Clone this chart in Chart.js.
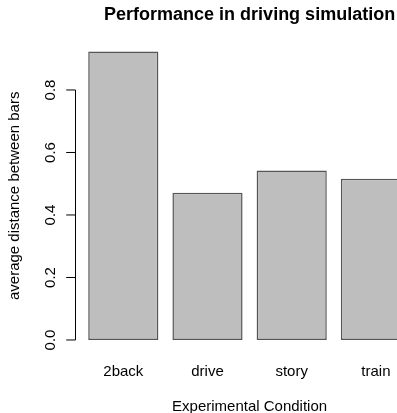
<!DOCTYPE html>
<html><head><meta charset="utf-8">
<script src="https://cdn.jsdelivr.net/npm/chart.js@4/dist/chart.umd.min.js"></script>
<style>
html,body{margin:0;padding:0;background:#fff;overflow:hidden}
#wrap{width:397px;height:413px;overflow:hidden;position:relative;background:#fff}
canvas{display:block}
</style></head>
<body><div id="wrap"><canvas id="c" width="430" height="420"></canvas></div>
<script>
const categories = ['2back', 'drive', 'story', 'train'];
const values = [0.923, 0.471, 0.542, 0.516];
const yTicks = [0, 0.2, 0.4, 0.6, 0.8];
const yTickLabels = ['0.0', '0.2', '0.4', '0.6', '0.8'];
const yRange = [-0.0369, 0.9596];
const titleText = 'Performance in driving simulation';
const xTitle = 'Experimental Condition';
const yTitle = 'average distance between bars';
const FONT = "'Liberation Sans', Arial, Helvetica, sans-serif";

const rAxis = {
  id: 'rAxis',
  afterDraw(chart) {
    const ctx = chart.ctx, y = chart.scales.y;
    const ax = Math.floor(chart.chartArea.left - 5.2) - 0.5;
    const y0 = y.getPixelForValue(yTicks[0]);
    const y1 = y.getPixelForValue(yTicks[yTicks.length - 1]);
    ctx.save();
    ctx.strokeStyle = '#000';
    ctx.lineWidth = 1;
    ctx.beginPath();
    ctx.moveTo(ax, y0); ctx.lineTo(ax, y1);
    yTicks.forEach(v => {
      const p = y.getPixelForValue(v);
      ctx.moveTo(ax, p); ctx.lineTo(ax - 9.3, p);
    });
    ctx.stroke();
    ctx.fillStyle = '#000';
    ctx.font = '15px ' + FONT;
    ctx.textAlign = 'center';
    ctx.textBaseline = 'alphabetic';
    yTicks.forEach((v, i) => {
      const p = y.getPixelForValue(v);
      ctx.save();
      ctx.translate(ax - 20.5, p);
      ctx.rotate(-Math.PI / 2);
      ctx.fillText(yTickLabels[i], 0, 0);
      ctx.restore();
    });
    ctx.restore();
  }
};

new Chart(document.getElementById('c'), {
  type: 'bar',
  data: {
    labels: categories,
    datasets: [{
      data: values,
      backgroundColor: '#bebebe',
      borderColor: '#555555',
      borderWidth: 1.5,
      borderSkipped: false,
      barPercentage: 1,
      categoryPercentage: 0.8333
    }]
  },
  options: {
    responsive: false,
    animation: false,
    devicePixelRatio: 1,
    layout: { padding: { left: 0, right: 12, top: 0, bottom: 0 } },
    plugins: {
      legend: { display: false },
      tooltip: { enabled: false },
      title: {
        display: true, text: titleText, fullSize: false, color: '#000',
        font: { family: FONT, size: 18, weight: 'bold', lineHeight: 1.2 },
        padding: { top: 4.2, bottom: 14.3 }
      }
    },
    scales: {
      x: {
        type: 'category', offset: true,
        grid: { display: false, drawTicks: false },
        border: { display: false },
        ticks: { color: '#000', font: { family: FONT, size: 15, lineHeight: 1.2 }, padding: 11, maxRotation: 0, autoSkip: false },
        afterFit(s) { s.height = 68.5; },
        title: { display: true, text: xTitle, color: '#000', font: { family: FONT, size: 15, lineHeight: 1 }, padding: { top: 18.5, bottom: 6 } }
      },
      y: {
        type: 'linear', min: yRange[0], max: yRange[1],
        grid: { display: false, drawTicks: false },
        border: { display: false },
        ticks: { display: false },
        afterFit(s) { s.width = 81.2; },
        title: { display: true, text: yTitle, color: '#000', font: { family: FONT, size: 15, lineHeight: 1 }, padding: { top: 7.8, bottom: 0 } }
      }
    }
  },
  plugins: [rAxis]
});
</script>
</body></html>
